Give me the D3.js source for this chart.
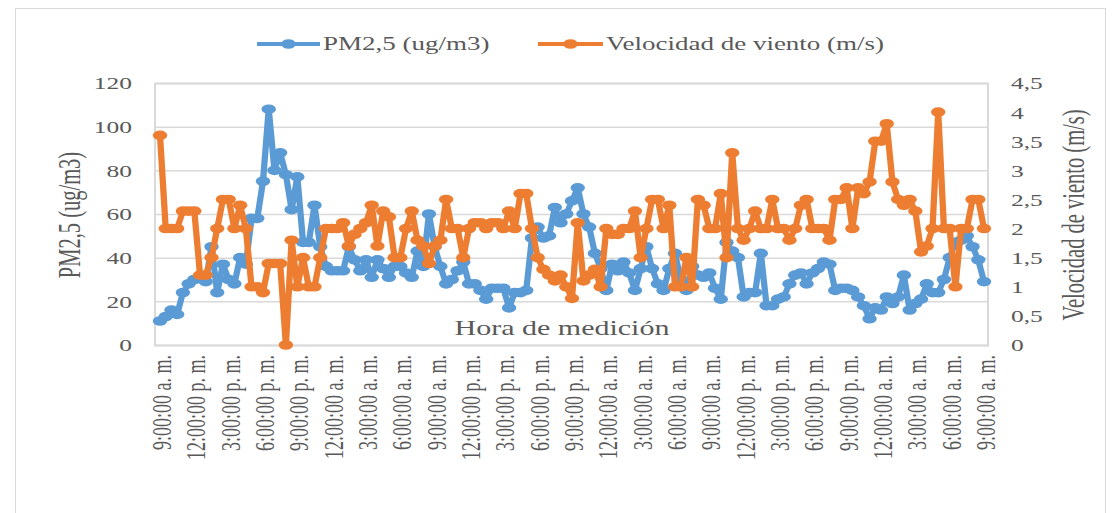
<!DOCTYPE html>
<html><head><meta charset="utf-8">
<script src="https://cdn.jsdelivr.net/npm/d3@7"></script>
<style>
body{margin:0;background:#fff}
text{font-family:"Liberation Serif","Times New Roman",serif;fill:#595959}
</style>
</head><body>
<svg id="c" width="1114" height="513"></svg>
<script>
const seriesNames = ["PM2,5 (ug/m3)", "Velocidad de viento (m/s)"];
const pm25 = [11,13,16,14,24,28,30,31,29,45,24,37,30,28,40,37,58,58,75,108,
80,88,78,62,77,47,47,64,45,36,34,34,34,45,39,34,39,31,39,35,
31,36,36,33,31,43,36,60,45,36,28,30,34,38,28,28,25,21,26,26,
26,17,24,24,25,49,54,49,50,63,56,60,66,72,60,54,42,35,25,37,
34,38,33,25,35,45,35,28,25,35,42,30,25,36,32,31,33,26,21,47,
43,40,22,24,24,42,18,18,21,22,28,32,33,28,33,35,38,37,25,26,
26,25,22,18,12,17,16,22,19,22,32,16,19,21,28,24,24,30,40,47,
48,50,45,39,29];
const wind = [3.6,2.0,2.0,2.0,2.3,2.3,2.3,1.2,1.2,1.5,2.0,2.5,2.5,2.0,2.4,2.0,1.0,1.0,0.9,1.4,
1.4,1.4,0.0,1.8,1.0,1.5,1.0,1.0,1.5,2.0,2.0,2.0,2.1,1.7,1.9,2.0,2.1,2.4,1.7,2.3,
2.2,1.5,1.5,2.0,2.3,1.8,1.7,1.4,1.7,1.8,2.5,2.0,2.0,1.5,2.0,2.1,2.1,2.0,2.1,2.1,
2.0,2.3,2.0,2.6,2.6,2.0,1.5,1.3,1.2,1.1,1.2,1.0,0.8,2.1,1.1,1.2,1.3,1.0,2.0,1.9,
1.9,2.0,2.0,2.3,1.5,2.0,2.5,2.5,2.0,2.4,1.0,1.0,1.5,1.0,2.5,2.4,2.0,2.0,2.6,1.5,
3.3,2.0,1.8,2.0,2.3,2.0,2.0,2.5,2.0,2.0,1.8,2.0,2.4,2.5,2.0,2.0,2.0,1.8,2.5,2.5,
2.7,2.0,2.7,2.6,2.8,3.5,3.5,3.8,2.8,2.5,2.4,2.5,2.3,1.6,1.7,2.0,4.0,2.0,2.0,1.0,
2.0,2.0,2.5,2.5,2.0];
const leftTicks = [0,20,40,60,80,100,120];
const rightTicks = [0,0.5,1,1.5,2,2.5,3,3.5,4,4.5];
const rightTickLabels = ["0","0,5","1","1,5","2","2,5","3","3,5","4","4,5"];
const xTickLabels = ["9:00:00 a. m.","12:00:00 p. m.","3:00:00 p. m.","6:00:00 p. m.","9:00:00 p. m.",
"12:00:00 a. m.","3:00:00 a. m.","6:00:00 a. m.","9:00:00 a. m.","12:00:00 p. m.","3:00:00 p. m.",
"6:00:00 p. m.","9:00:00 p. m.","12:00:00 a. m.","3:00:00 a. m.","6:00:00 a. m.","9:00:00 a. m.",
"12:00:00 p. m.","3:00:00 p. m.","6:00:00 p. m.","9:00:00 p. m.","12:00:00 a. m.","3:00:00 a. m.",
"6:00:00 a. m.","9:00:00 a. m."];
const labelEvery = 6;
const categories = pm25.map((d,i)=>i);
const xAxisTitle = "Hora de medición";
const yLeftTitle = "PM2,5 (ug/m3)";
const yRightTitle = "Velocidad de viento (m/s)";

const colors = ["#5B9BD5","#ED7D31"];
const S = 1.5; // horizontal stretch of the reference picture
const L=155, R=988, T=83, B=345;
const svg = d3.select("#c");

// outer chart border
svg.append("rect").attr("x",15.5).attr("y",8.5).attr("width",1090).attr("height",540)
  .attr("fill","none").attr("stroke","#d9d9d9").attr("stroke-width",1);

const xReal = d3.scalePoint().domain(categories).range([160,984]);
const xS = d3.scalePoint().domain(categories).range([160/S,984/S]);
const yL = d3.scaleLinear().domain([0,120]).range([B,T]);
const yR = d3.scaleLinear().domain([0,4.5]).range([B,T]);

// gridlines
svg.append("g").selectAll("line").data(leftTicks).join("line")
  .attr("x1",L).attr("x2",R).attr("y1",d=>yL(d)+0.5).attr("y2",d=>yL(d)+0.5)
  .attr("stroke","#d9d9d9").attr("stroke-width",1.5);
svg.append("rect").attr("x",L).attr("y",T+0.5).attr("width",R-L).attr("height",B-T)
  .attr("fill","none").attr("stroke","#d9d9d9").attr("stroke-width",2);

// left axis
const gl = svg.append("g").attr("transform","translate(132,0)")
  .call(d3.axisLeft(yL).tickValues(leftTicks).tickSize(0).tickPadding(0));
gl.select(".domain").remove();
gl.selectAll("text").attr("x",0).attr("dy","0.35em").attr("transform",`scale(${S},1)`)
  .style("font-size","17px").style("font-family","Liberation Serif").attr("fill","#595959");

// right axis
const gr = svg.append("g").attr("transform","translate(1011,0)")
  .call(d3.axisRight(yR).tickValues(rightTicks).tickSize(0).tickPadding(0)
    .tickFormat((d,i)=>rightTickLabels[i]));
gr.select(".domain").remove();
gr.selectAll("text").attr("x",0).attr("dy","0.35em").attr("transform",`scale(${S},1)`)
  .style("font-size","17px").style("font-family","Liberation Serif").attr("fill","#595959");

// bottom axis
const tickCats = categories.filter(i=>i%labelEvery===0);
const gb = svg.append("g").attr("transform",`translate(0,${B})`)
  .call(d3.axisBottom(xReal).tickValues(tickCats).tickSize(0).tickPadding(0)
    .tickFormat((d,i)=>xTickLabels[i]));
gb.select(".domain").remove();
gb.selectAll("text").attr("x",0).attr("y",0).attr("dy","0.35em")
  .attr("text-anchor","end")
  .attr("transform",`translate(1,10) scale(${S},1) rotate(-90)`)
  .style("font-size","18px").style("font-family","Liberation Serif").attr("fill","#595959");

// axis titles
svg.append("text").text(yLeftTitle).attr("text-anchor","middle").attr("dy","0.35em")
  .attr("transform",`translate(69,215) scale(${S},1) rotate(-90)`).style("font-size","20.5px");
svg.append("text").text(yRightTitle).attr("text-anchor","middle").attr("dy","0.35em")
  .attr("transform",`translate(1073,215) scale(${S},1) rotate(-90)`).style("font-size","20.5px");
svg.append("text").text(xAxisTitle).attr("text-anchor","middle").attr("dy","0.35em")
  .attr("transform",`translate(562,328) scale(${S},1)`).style("font-size","20px");

// data
const data = svg.append("g").attr("transform",`scale(${S},1)`);
const series = [{vals:pm25, y:yL, c:colors[0]},{vals:wind, y:yR, c:colors[1]}];
series.forEach(s=>{
  const line = d3.line().x((d,i)=>xS(i)).y(d=>s.y(d));
  data.append("path").datum(s.vals).attr("d",line).attr("fill","none")
    .attr("stroke",s.c).attr("stroke-width",4.2).attr("stroke-linejoin","round").attr("stroke-linecap","round");
  data.append("g").selectAll("circle").data(s.vals).join("circle")
    .attr("cx",(d,i)=>xS(i)).attr("cy",d=>s.y(d)).attr("r",4.8).attr("fill",s.c);
});

// legend
const legend = [{x1:257,x2:320,tx:323,name:seriesNames[0],c:colors[0]},
                {x1:538,x2:603,tx:606,name:seriesNames[1],c:colors[1]}];
const lg = svg.append("g");
legend.forEach(l=>{
  lg.append("line").attr("x1",l.x1).attr("x2",l.x2).attr("y1",44).attr("y2",44)
    .attr("stroke",l.c).attr("stroke-width",4);
  lg.append("ellipse").attr("cx",(l.x1+l.x2)/2).attr("cy",44).attr("rx",4.8*S).attr("ry",4.8).attr("fill",l.c);
  lg.append("text").text(l.name).attr("dy","0.35em")
    .attr("transform",`translate(${l.tx},44) scale(${S},1)`).style("font-size","18px");
});
</script>
</body></html>
